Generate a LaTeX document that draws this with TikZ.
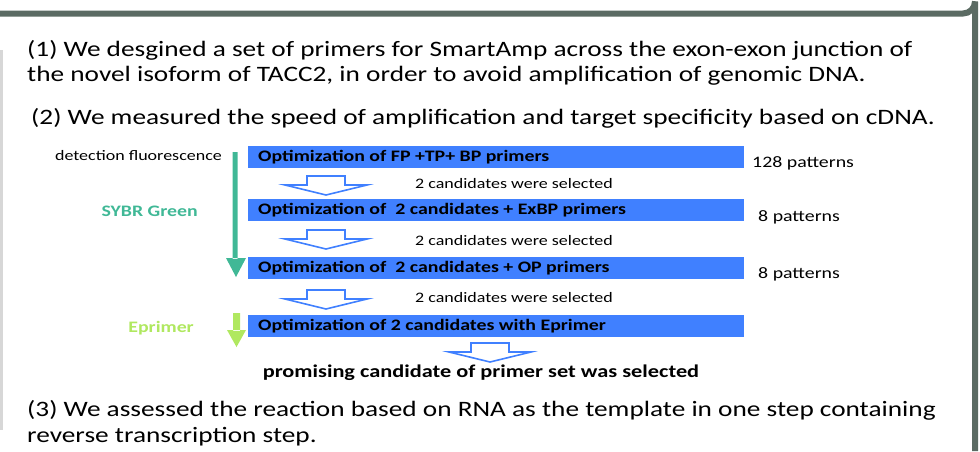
\documentclass[tikz,border=0pt]{standalone}
\usepackage{fontspec}
\setmainfont[FakeStretch=1.24]{Carlito}
\usetikzlibrary{calc}
\definecolor{framec}{RGB}{91,107,99}
\definecolor{leftc}{RGB}{215,215,215}
\definecolor{boxblue}{RGB}{64,128,255}
\definecolor{teal}{RGB}{64,184,150}
\definecolor{lgreen}{RGB}{176,232,96}
\tikzset{
  maintext/.style={anchor=west,inner sep=0pt,font=\fontsize{22}{26}\selectfont},
  stepbox/.style={fill=boxblue,draw=none,minimum width=496pt,minimum height=22pt,inner sep=0pt,anchor=north west},
  boxtext/.style={anchor=west,inner sep=0pt,font=\fontsize{16}{19}\selectfont\bfseries},
  smalltext/.style={anchor=west,inner sep=0pt,font=\fontsize{14.5}{17}\selectfont},
  pattext/.style={anchor=west,inner sep=0pt,font=\fontsize{16}{19}\selectfont},
  hollow/.style={draw=boxblue,fill=white,line width=1.6pt,line join=miter},
}
\newcommand{\hollowarrow}[1]{%
  \draw[hollow] ($(#1)+(-19,-9)$) -- ($(#1)+(19,-9)$) -- ($(#1)+(19,0)$) -- ($(#1)+(41,0)$)
   -- ($(#1)+(0,10)$) -- ($(#1)+(-41,0)$) -- ($(#1)+(-19,0)$) -- cycle;}
\begin{document}
\begin{tikzpicture}[x=1pt,y=-1pt]
\useasboundingbox (0,0) rectangle (980,451);
% frame
\fill[leftc] (0,50) rectangle (3,430);
\draw[framec,line width=6pt] (0,13.5) -- (963,13.5) arc[start angle=90,end angle=0,radius=12] -- (975,451);
% main text
\node[maintext] (t1) at (27,50) {(1) We desgined a set of primers for SmartAmp across the exon-exon junction of};
\node[maintext] (t2) at (27,76) {the novel isoform of TACC2, in order to avoid amplification of genomic DNA.};
\node[maintext] (t3) at (31,118) {(2) We measured the speed of amplification and target specificity based on cDNA.};
\node[maintext] (t4) at (27,410) {(3) We assessed the reaction based on RNA as the template in one step containing};
\node[maintext] (t5) at (27,437) {reverse transcription step.};
% boxes
\node[stepbox] (b1) at (248,146) {};
\node[stepbox] (b2) at (248,199) {};
\node[stepbox] (b3) at (248,257) {};
\node[stepbox] (b4) at (248,315) {};
\node[boxtext] (bt1) at (258,157) {Optimization of FP +TP+ BP primers};
\node[boxtext] (bt2) at (258,210) {Optimization of\ \ 2 candidates + ExBP primers};
\node[boxtext] (bt3) at (258,268) {Optimization of\ \ 2 candidates + OP primers};
\node[boxtext] (bt4) at (258,326) {Optimization of 2 candidates with Eprimer};
\node[pattext] (p1) at (752,163) {128 patterns};
\node[pattext] (p2) at (758,217) {8 patterns};
\node[pattext] (p3) at (758,274) {8 patterns};
% hollow arrows
\coordinate (a1) at (326,185);
\coordinate (a2) at (326,239);
\coordinate (a3) at (326,299);
\coordinate (a4) at (490,352);
\hollowarrow{a1}
\hollowarrow{a2}
\hollowarrow{a3}
\hollowarrow{a4}
\node[smalltext] (s1) at (415,184) {2 candidates were selected};
\node[smalltext] (s2) at (415,241) {2 candidates were selected};
\node[smalltext] (s3) at (415,298) {2 candidates were selected};
\node[anchor=center,inner sep=0pt,font=\fontsize{18}{21}\selectfont\bfseries] (res) at (481,373) {promising candidate of primer set was selected};
% left labels
\node[anchor=east,inner sep=0pt,font=\fontsize{14.5}{17}\selectfont] (det) at (222,156) {detection fluorescence};
\node[anchor=east,inner sep=0pt,font=\fontsize{16}{19}\selectfont\bfseries,text=teal] (sybr) at (198,211) {SYBR Green};
\node[anchor=east,inner sep=0pt,font=\fontsize{16}{19}\selectfont\bfseries,text=lgreen] (epr) at (194,328) {Eprimer};
% vertical arrows
\fill[teal] (232.5,152) rectangle (237.5,259) (226,258) -- (246,258) -- (236,277) -- cycle;
\fill[lgreen] (233,313) rectangle (240,331) (227,330) -- (246,330) -- (236.5,347) -- cycle;
\end{tikzpicture}
\end{document}
